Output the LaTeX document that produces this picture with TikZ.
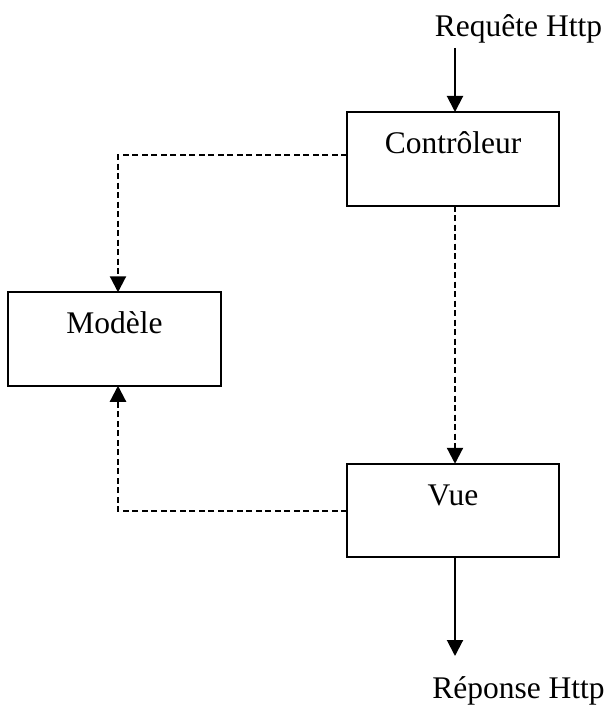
\documentclass[tikz,border=0pt]{standalone}
\usepackage{fontspec}
\setmainfont{Liberation Serif}
\usetikzlibrary{arrows.meta}
\begin{document}
\begin{tikzpicture}[x=1pt,y=-1pt,
  every node/.style={inner sep=0pt,outer sep=0pt},
  box/.style={draw,line width=2pt,minimum width=212pt,minimum height=93.5pt},
  lbl/.style={font=\fontsize{31.5}{38}\selectfont,anchor=base},
  flow/.style={line width=2pt,-{Triangle[width=16pt,length=16pt]}},
  dflow/.style={flow,line width=2.2pt,dash pattern=on 6pt off 3.5pt}]
\useasboundingbox (0,0) rectangle (610,706);

% boxes
\node[box] (ctrl) at (453,158.75) {};
\node[box,minimum width=213pt] (modele) at (114.5,339) {};
\node[box] (vue) at (453,510.5) {};

% labels
\node[lbl] (ctrlt) at (453,153) {Contrôleur};
\node[lbl] (modelet) at (114.5,333) {Modèle};
\node[lbl] (vuet) at (453,505) {Vue};
\node[lbl] (req) at (518.5,37) {Requête Http};
\node[lbl] (rep) at (518.5,698) {Réponse Http};

% connector end points
\coordinate (qin) at (455,48);
\coordinate (rout) at (455,656);
\coordinate (cv) at (455,0);
\coordinate (lx) at (118,0);
\coordinate (cy) at (0,155);
\coordinate (vy) at (0,511);

% HTTP request and response
\draw[flow] (qin) -- (qin |- ctrl.north);
\draw[flow] (cv |- vue.south) -- (rout);

% controller -> model, controller -> view, view -> model
\draw[dflow] (ctrl.west |- cy) -- (lx |- cy) -- (lx |- modele.north);
\draw[dflow] (cv |- ctrl.south) -- (cv |- vue.north);
\draw[dflow] (vue.west |- vy) -- (lx |- vy) -- (lx |- modele.south);
\end{tikzpicture}
\end{document}
